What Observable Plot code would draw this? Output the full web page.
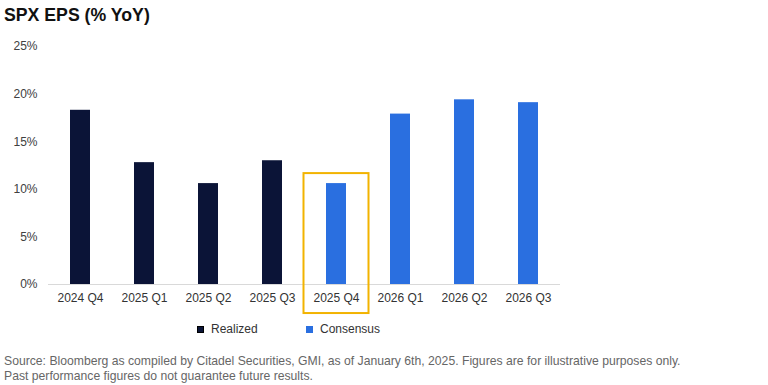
<!DOCTYPE html>
<html>
<head>
<meta charset="utf-8">
<script src="https://cdn.jsdelivr.net/npm/d3@7"></script>
<script src="https://cdn.jsdelivr.net/npm/@observablehq/plot@0.6"></script>
<style>
  html, body { margin: 0; padding: 0; background: #fff; }
  body { width: 768px; height: 385px; position: relative; overflow: hidden; font-family: "Liberation Sans", Arial, sans-serif; }
  #title { position: absolute; left: 4px; top: 5px; font-size: 17.7px; font-weight: bold; color: #111; }
  #chart { position: absolute; left: 0; top: 30px; }
  .leg { position: absolute; top: 322px; font-size: 12px; color: #333; display: flex; align-items: center; }
  .sw { width: 7px; height: 7px; margin-right: 7px; box-sizing: border-box; }
  #caption { position: absolute; left: 4px; top: 354px; font-family: "Liberation Sans", Arial, sans-serif; font-size: 12.2px; line-height: 15px; color: #666; white-space: nowrap; }
</style>
</head>
<body>
<div id="title">SPX EPS (% YoY)</div>
<div id="chart"></div>
<div class="leg" style="left:197px"><div class="sw" style="background:#0b1437;border:1px solid #000"></div>Realized</div>
<div class="leg" style="left:306px"><div class="sw" style="background:#2a6fe0"></div>Consensus</div>
<div id="caption">Source: Bloomberg as compiled by Citadel Securities, GMI, as of January 6th, 2025. Figures are for illustrative purposes only.<br>Past performance figures do not guarantee future results.</div>
<script>
const quarters = ["2024 Q4","2025 Q1","2025 Q2","2025 Q3","2025 Q4","2026 Q1","2026 Q2","2026 Q3"];
const epsGrowth = [18.3, 12.8, 10.6, 13.0, 10.6, 17.9, 19.4, 19.1];
const status = ["Realized","Realized","Realized","Realized","Consensus","Consensus","Consensus","Consensus"];
const yTicks = [0, 5, 10, 15, 20, 25];
const highlightQuarter = "2025 Q4";

const data = quarters.map((q, i) => ({quarter: q, value: epsGrowth[i], status: status[i]}));

const plot = Plot.plot({
  width: 768,
  height: 310,
  marginTop: 16,
  marginBottom: 56,
  marginLeft: 48,
  marginRight: 208,
  style: {fontFamily: "Liberation Sans, Arial, sans-serif", fontSize: "12px", color: "#333", background: "transparent", overflow: "visible"},
  x: {domain: quarters, paddingInner: 0.69, paddingOuter: 0.345, label: null},
  y: {domain: [0, 25], label: null},
  color: {domain: ["Realized","Consensus"], range: ["#0b1437","#2a6fe0"]},
  marks: [
    Plot.axisX({tickSize: 0, tickPadding: 9, fontSize: 12, fill: "#333"}),
    Plot.axisY({ticks: yTicks, tickSize: 0, tickPadding: 11, tickFormat: d => d + "%", fontSize: 12, fill: "#404040"}),
    Plot.ruleY([0], {stroke: "#d9d9d9", strokeWidth: 1}),
    Plot.barY(data, {x: "quarter", y: "value", fill: "status"}),
    Plot.barY([highlightQuarter], {x: d => d, y1: -3.05, y2: 11.65, fill: "none", stroke: "#f2b300", strokeWidth: 2, insetLeft: -22.5, insetRight: -22.5, clip: false})
  ]
});
document.getElementById("chart").appendChild(plot);
</script>
</body>
</html>
